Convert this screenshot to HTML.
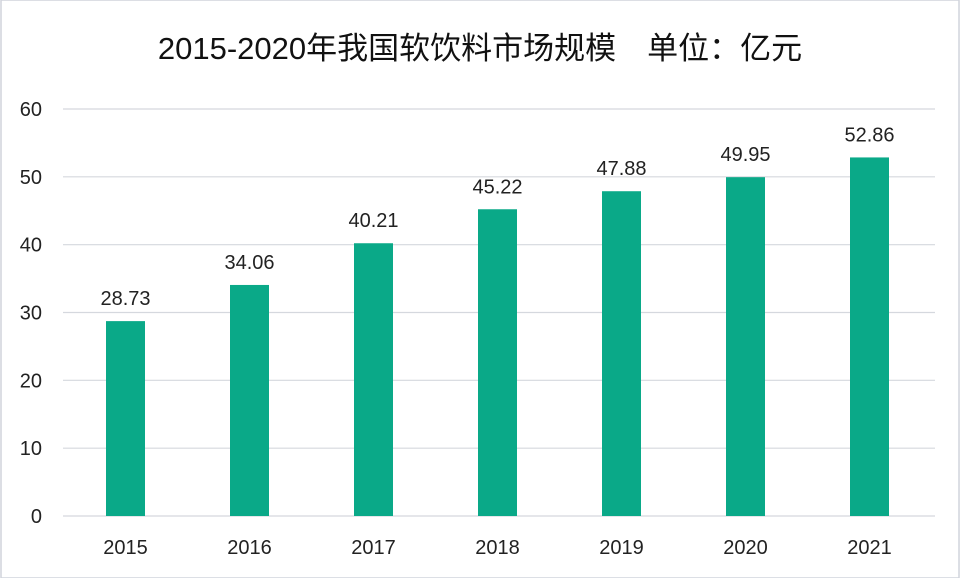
<!DOCTYPE html>
<html><head><meta charset="utf-8"><style>
body{margin:0;background:#fff;}
svg{display:block;font-family:"Liberation Sans","Noto Sans CJK SC",sans-serif;}
</style></head><body>
<svg width="960" height="578" viewBox="0 0 960 578">
<rect x="1" y="0" width="958" height="578" fill="#fff" stroke="#d0d4dc" stroke-width="1.5"/>
<text x="480" y="59" text-anchor="middle" font-size="31" fill="#111">2015-2020年我国软饮料市场规模　单位：亿元</text>
<g id="grid"></g><g id="bars"></g>
</svg>
<script>
const categories=["2015","2016","2017","2018","2019","2020","2021"];
const values=[28.73,34.06,40.21,45.22,47.88,49.95,52.86];
const valueLabels=["28.73","34.06","40.21","45.22","47.88","49.95","52.86"];
const yTicks=[0,10,20,30,40,50,60];
const NS="http://www.w3.org/2000/svg";
const y0=516,yTop=109,yMax=60;
const y=v=>y0-(v/yMax)*(y0-yTop);
const x=i=>125.5+i*124;
const bw=39;
const grid=document.getElementById('grid'),bars=document.getElementById('bars');
function mk(tag,attrs,parent,txt){const e=document.createElementNS(NS,tag);for(const k in attrs)e.setAttribute(k,attrs[k]);if(txt!==undefined)e.textContent=txt;parent.appendChild(e);return e;}
yTicks.forEach(t=>{
  const l=mk('line',{x1:63,x2:935,y1:y(t),y2:y(t),stroke:'#d5d8de','stroke-width':1.2},grid);
  
  
  const tx=mk('text',{x:42,y:y(t)+7,'text-anchor':'end','font-size':20,fill:'#222'},grid,String(t));
  
  
});
categories.forEach((c,i)=>{
  const r=mk('rect',{x:x(i)-bw/2,y:y(values[i]),width:bw,height:y0-y(values[i]),fill:'#0aa988'},bars);
  
  
  const v=mk('text',{x:x(i),y:y(values[i])-16,'text-anchor':'middle','font-size':20,fill:'#222'},bars,valueLabels[i]);
  
  
  const xl=mk('text',{x:x(i),y:554,'text-anchor':'middle','font-size':20,fill:'#222'},bars,c);
  
  
});
</script>
</body></html>
